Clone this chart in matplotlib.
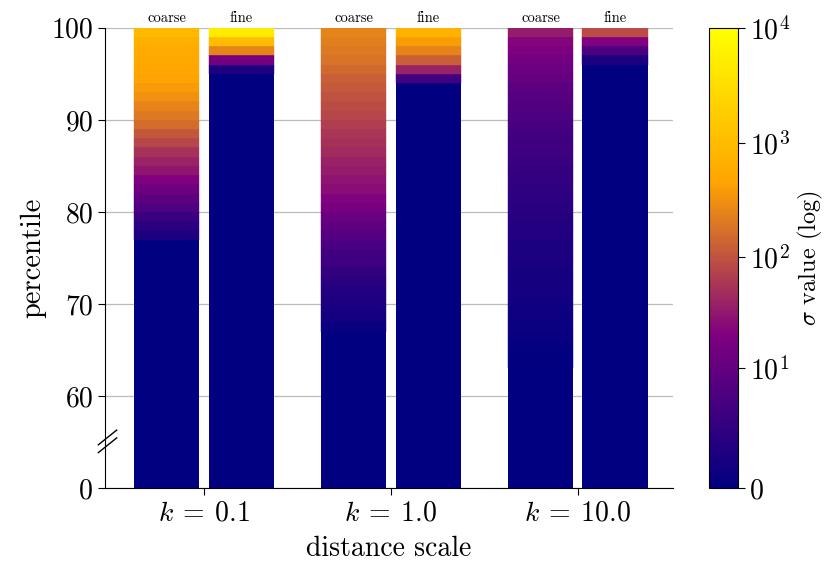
import numpy as np
import matplotlib
matplotlib.use('Agg')
import matplotlib.pyplot as plt
import matplotlib.colors as mcolors
import matplotlib.transforms as mtransforms

plt.rcParams['font.family'] = 'serif'
plt.rcParams['font.serif'] = ['cmr10', 'DejaVu Serif']
plt.rcParams['mathtext.fontset'] = 'cm'
plt.rcParams['axes.unicode_minus'] = False
plt.rcParams['axes.formatter.use_mathtext'] = True

# data: sigma value for each 1-percentile slice, starting at the given percentile
# (everything below the start percentile, down to the axis floor, has sigma = 0)
k_labels = [r'$k\:=\:0.1$', r'$k\:=\:1.0$', r'$k\:=\:10.0$']
res_labels = ['coarse', 'fine']

start_k01_coarse = 77
sigma_k01_coarse = [1.0, 1.8, 3.0, 5.3, 8, 13, 21, 31, 40, 55, 78, 110, 160,
                    200, 250, 320, 380, 440, 500, 520, 570, 630, 900]
start_k01_fine = 95
sigma_k01_fine = [1.0, 15, 250, 1000, 5000]

start_k1_coarse = 67
sigma_k1_coarse = [0.26, 0.58, 0.78, 1.0, 1.3, 1.8, 2.5, 3.5, 3.8, 5.0, 6.6,
                   9, 11.6, 16.8, 21.4, 26, 30.6, 34.5, 38.8, 47, 51.5, 59, 67,
                   78, 88, 99, 111, 125, 150, 177, 199, 223, 250]
start_k1_fine = 94
sigma_k1_fine = [4, 39, 125, 250, 400, 700]

start_k10_coarse = 63
sigma_k10_coarse = [0.06, 0.1, 0.15, 0.22, 0.3, 0.38, 0.45, 0.52, 0.6, 0.68,
                    0.76, 0.86, 0.95, 1.04, 1.14, 1.29, 1.51, 1.69, 1.88, 2.16,
                    2.39, 2.63, 2.98, 3.27, 3.57, 4.0, 4.6, 5.3, 6.1, 6.9, 7.9,
                    10.2, 12.2, 14.8, 19, 22.4, 34.5]
start_k10_fine = 96
sigma_k10_fine = [1.0, 5.3, 21, 88]

floor_pct = 50
y_ticks = [50, 60, 70, 80, 90, 100]
y_ticklabels = ['0', '60', '70', '80', '90', '100']

bars = [
    [(start_k01_coarse, sigma_k01_coarse), (start_k01_fine, sigma_k01_fine)],
    [(start_k1_coarse, sigma_k1_coarse), (start_k1_fine, sigma_k1_fine)],
    [(start_k10_coarse, sigma_k10_coarse), (start_k10_fine, sigma_k10_fine)],
]

cmap = mcolors.LinearSegmentedColormap.from_list(
    'npoy', ['navy', 'purple', 'orange', 'yellow'])
norm = mcolors.FuncNorm((lambda x: np.log10(1 + np.asarray(x)),
                         lambda y: 10 ** np.asarray(y) - 1), vmin=0, vmax=1e4)

fig = plt.figure(figsize=(8.3, 5.79), dpi=100)
ax = fig.add_axes([0.1265, 0.157, 0.6845, 0.795])
cax = fig.add_axes([0.854, 0.157, 0.035, 0.795])

width = 0.35
offsets = [-0.2, 0.2]
for i, group in enumerate(bars):
    for j, (start, sig) in enumerate(group):
        x = i + offsets[j]
        ax.bar(x, start - floor_pct, width, bottom=floor_pct,
               color=cmap(norm(0)), linewidth=0, zorder=2)
        for n, s in enumerate(sig):
            c = cmap(norm(s))
            ax.bar(x, 1, width, bottom=start + n, color=c, edgecolor=c,
                   linewidth=0.3, zorder=2)
        ax.text(x, 100.35, res_labels[j], ha='center', va='bottom',
                fontsize=10.5, clip_on=False)

ax.set_xlim(-0.53, 2.51)
ax.set_ylim(floor_pct, 100)
ax.set_yticks(y_ticks)
ax.set_yticklabels(y_ticklabels)
ax.set_xticks(range(len(k_labels)))
ax.set_xticklabels(k_labels)
ax.tick_params(labelsize=20, length=5, width=0.8)
ax.grid(axis='y', color='#bbbbbb', linewidth=0.9, zorder=0)
ax.set_axisbelow(True)
for side in ['top', 'right']:
    ax.spines[side].set_visible(False)
ax.set_ylabel('percentile', fontsize=20.5)
ax.set_xlabel('distance scale', fontsize=20, labelpad=7)

# axis break marks
trans = mtransforms.blended_transform_factory(ax.transAxes, ax.transData)
for dy in [0, -0.85]:
    ax.plot([-0.0118, 0.0206], [54.7 + dy, 56.3 + dy], color='black',
            linewidth=1.0, transform=trans, clip_on=False, zorder=5)

sm = plt.cm.ScalarMappable(norm=norm, cmap=cmap)
cb = fig.colorbar(sm, cax=cax)
cb.set_ticks([0, 10, 100, 1000, 10000])
cb.set_ticklabels(['0', '$10^1$', '$10^2$', '$10^3$', '$10^4$'])
cb.ax.tick_params(labelsize=20, length=5, width=0.8)
cb.ax.minorticks_off()
cb.set_label(r'$\sigma$ value (log)', fontsize=17.5, labelpad=4)

fig.savefig('out.png', dpi=100)
